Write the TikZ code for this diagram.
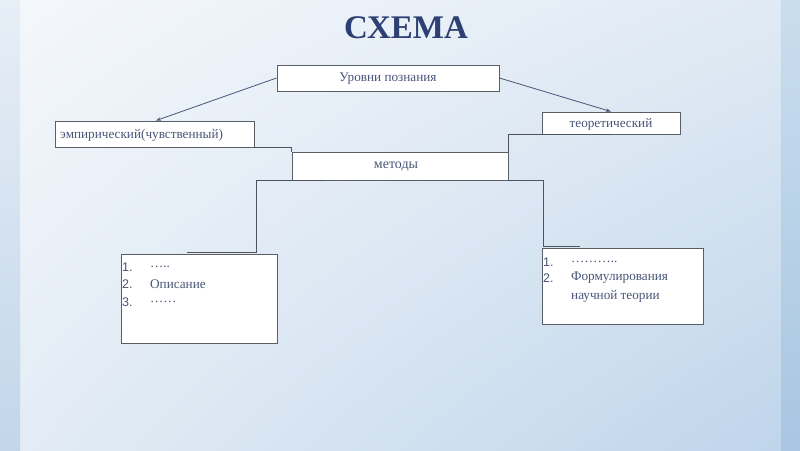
\documentclass[tikz,border=0pt]{standalone}
\usepackage{fontspec}
\setmainfont{Liberation Serif}
\newfontfamily\numfont{Liberation Sans}
\usetikzlibrary{arrows.meta,shadings}
\definecolor{titlecol}{HTML}{2D3F73}
\definecolor{txtcol}{HTML}{4A5578}
\definecolor{edgecol}{HTML}{5A5E66}
\definecolor{linecol}{HTML}{4E535C}
\definecolor{bgul}{HTML}{F4F7FB}
\definecolor{bgur}{HTML}{E0EAF4}
\definecolor{bgll}{HTML}{E3ECF5}
\definecolor{bglr}{HTML}{BFD5EB}
\definecolor{lstt}{HTML}{E7EEF6}
\definecolor{lstb}{HTML}{C2D6EA}
\definecolor{rstt}{HTML}{CADDEE}
\definecolor{rstb}{HTML}{A8C6E2}
\tikzset{
  box/.style={draw=edgecol, line width=0.9pt, fill=white, inner sep=0pt},
  conn/.style={draw=linecol, line width=1pt},
  arr/.style={draw=txtcol, line width=0.8pt, -{Stealth[length=5pt,width=3.5pt]}},
  lbl/.style={inner sep=0pt, text=txtcol, font=\fontsize{13.2}{15}\selectfont},
  itemtxt/.style={anchor=west, inner sep=0pt, text=txtcol, font=\fontsize{13.2}{15}\selectfont},
  itemnum/.style={anchor=west, inner sep=0pt, text=txtcol, font=\numfont\fontsize{12.5}{15}\selectfont}
}
\begin{document}
\begin{tikzpicture}[x=1pt,y=-1pt]
\useasboundingbox (0,0) rectangle (800,450);
% background
\shade[upper left=bgul, upper right=bgur, lower left=bgll, lower right=bglr] (20,0) rectangle (781,450);
\shade[top color=lstt, bottom color=lstb] (0,0) rectangle (20,450);
\shade[top color=rstt, bottom color=rstb] (781,0) rectangle (800,450);
% title
\node[font=\fontsize{33}{36}\selectfont\bfseries, text=titlecol, inner sep=0pt] (title) at (406,28) {СХЕМА};
% boxes
\node[box, minimum width=222pt, minimum height=26pt] (lvl) at (388,78) {};
\node[lbl] (lvltxt) at (388,79) {Уровни познания};
\node[box, minimum width=199pt, minimum height=26pt] (emp) at (154.5,134) {};
\node[itemtxt] (emptxt) at (60,135) {эмпирический(чувственный)};
\node[box, minimum width=138pt, minimum height=22pt] (teo) at (611,123) {};
\node[lbl] (teotxt) at (611,124) {теоретический};
\node[box, minimum width=216pt, minimum height=28pt] (met) at (400,166) {};
\node[lbl, font=\fontsize{14}{16}\selectfont] (mettxt) at (396,167) {методы};
\node[box, minimum width=156pt, minimum height=89pt] (L) at (199,298.5) {};
\node[box, minimum width=161pt, minimum height=76pt] (R) at (622.5,286) {};
% list items left
\node[itemnum] (l1n) at (122,267) {1.};
\node[itemtxt] (l1t) at (150,267) {…..};
\node[itemnum] (l2n) at (122,284) {2.};
\node[itemtxt] (l2t) at (150,284) {Описание};
\node[itemnum] (l3n) at (122,302) {3.};
\node[itemtxt] (l3t) at (150,302) {……};
% list items right
\node[itemnum] (r1n) at (543,262) {1.};
\node[itemtxt] (r1t) at (571,262) {………..};
\node[itemnum] (r2n) at (543,278) {2.};
\node[itemtxt] (r2t) at (571,278) {Формулирования};
\node[itemtxt] (r3t) at (571,296) {научной теории};
% arrows
\draw[arr] (lvl.west) -- ([xshift=1.5pt]emp.north);
\draw[arr] (lvl.east) -- (teo.north);
% connectors
\draw[conn] (emp.south east) -| (met.north west);
\draw[conn] (teo.south) -| (met.north east);
\draw[conn] ([xshift=32pt]met.south west) -| ([xshift=57pt,yshift=1pt]L.north) -- ([xshift=-12pt,yshift=1pt]L.north);
\draw[conn] (met.south east) -| ([xshift=2pt,yshift=1pt]R.north west) -- ([xshift=38pt,yshift=1pt]R.north west);
\end{tikzpicture}
\end{document}
